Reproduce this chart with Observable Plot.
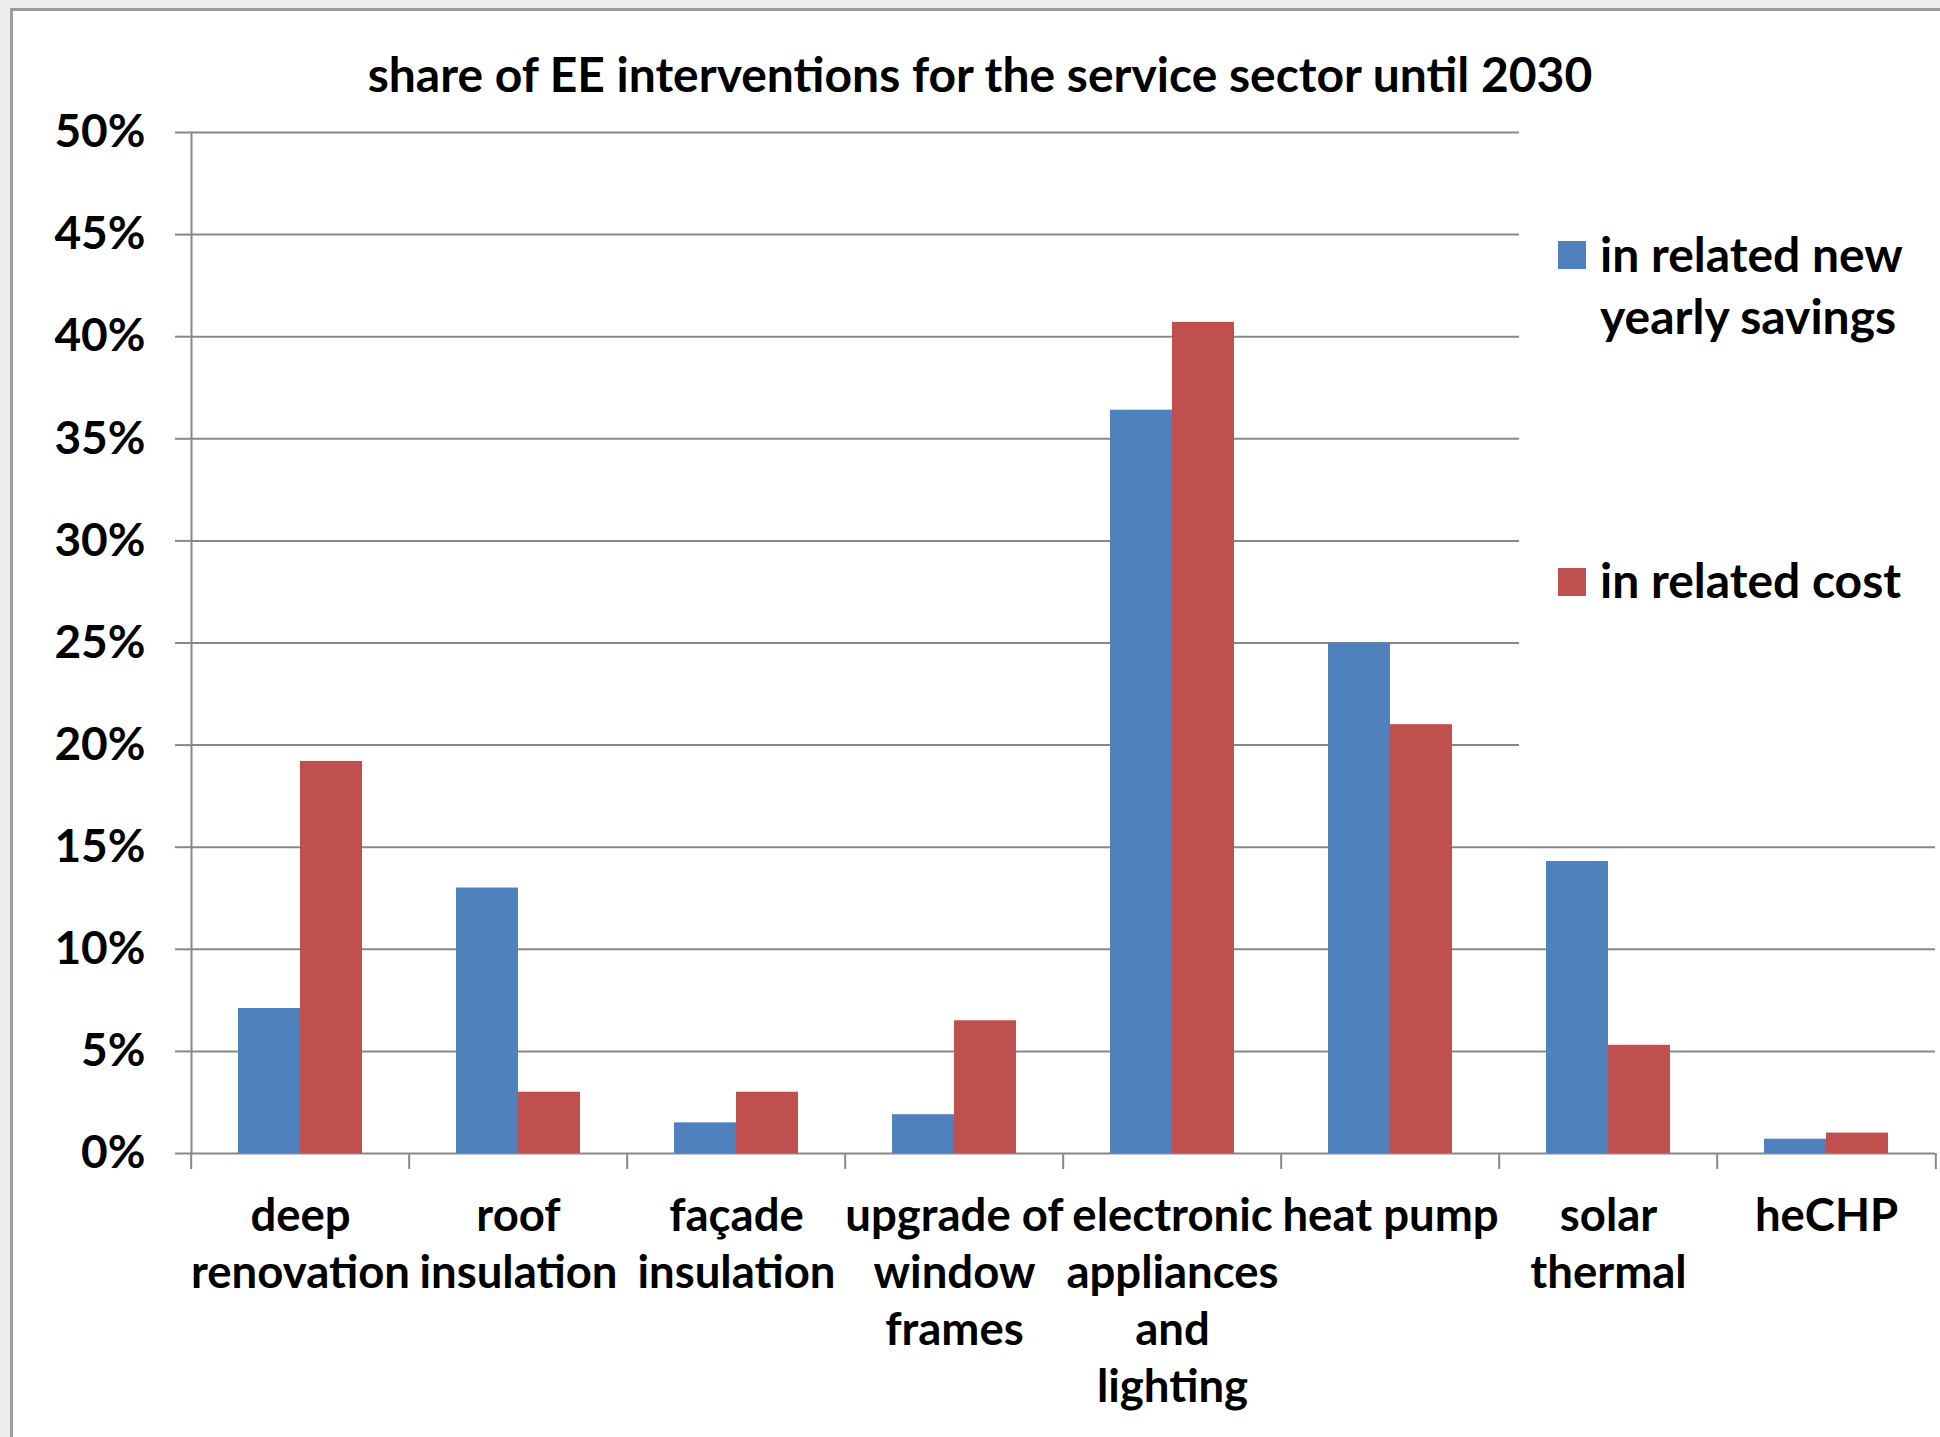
<!DOCTYPE html>
<html>
<head>
<meta charset="utf-8">
<script src="https://cdn.jsdelivr.net/npm/d3@7"></script>
<script src="https://cdn.jsdelivr.net/npm/@observablehq/plot@0.6"></script>
<style>
  html, body { margin: 0; padding: 0; width: 1940px; height: 1437px; overflow: hidden; background: #efeeec; }
  #panel { position: absolute; left: 10px; top: 8px; width: 1960px; height: 1460px; background: #fff; border: 3px solid #9d9d9d; box-sizing: border-box; }
  #title { position: absolute; left: 0; width: 1960px; top: 45px; text-align: center; font-family: Lato, sans-serif; font-weight: 700; font-size: 48px; line-height: 58px; color: #000; white-space: nowrap; }
  #chart { position: absolute; left: 0; top: 100px; }
  #legend { position: absolute; left: 1519px; top: 112px; width: 421px; height: 690px; background: #fff; font-family: Lato, sans-serif; font-weight: 700; font-size: 48px; color: #000; }
  .item { position: absolute; left: 39px; display: flex; align-items: flex-start; }
  .sw { width: 28px; height: 28px; margin-right: 14px; flex: none; }
  .lab { line-height: 62px; white-space: nowrap; }
</style>
</head>
<body>
<div id="panel"></div>
<div id="title"></div>
<div id="chart"></div>
<div id="legend"></div>
<script>
const titleText = "share of EE interventions for the service sector until 2030";
const categories = ["deep renovation", "roof insulation", "façade insulation", "upgrade of window frames", "electronic appliances and lighting", "heat pump", "solar thermal", "heCHP"];
const categoryLabels = ["deep\nrenovation", "roof\ninsulation", "façade\ninsulation", "upgrade of\nwindow\nframes", "electronic\nappliances\nand\nlighting", "heat pump", "solar\nthermal", "heCHP"];
const series = ["in related new yearly savings", "in related cost"];
const seriesLabels = ["in related new<br>yearly savings", "in related cost"];
const savings = [7.1, 13.0, 1.5, 1.9, 36.4, 25.0, 14.3, 0.7];
const cost = [19.2, 3.0, 3.0, 6.5, 40.7, 21.0, 5.3, 1.0];
const colors = ["#4f81bd", "#c0504d"];
const yTicks = [0, 5, 10, 15, 20, 25, 30, 35, 40, 45, 50];

const data = [];
categories.forEach((c, i) => {
  data.push({category: c, series: series[0], value: savings[i]});
  data.push({category: c, series: series[1], value: cost[i]});
});
const labelOf = new Map(categories.map((c, i) => [c, categoryLabels[i]]));

const W = 1940, H = 1337, mL = 188, mR = 3, mT = 32, mB = 284;
const step = (W - mL - mR) / categories.length;
const gridColor = "#888888";

document.getElementById("title").textContent = titleText;

const chart = Plot.plot({
  width: W, height: H,
  marginLeft: mL, marginRight: mR, marginTop: mT, marginBottom: mB,
  style: {fontFamily: "Lato, sans-serif", fontSize: "48px", fontWeight: 700, color: "#000", background: "transparent", overflow: "visible"},
  fx: {domain: categories, padding: 0, label: null},
  x: {domain: series, paddingInner: 0, paddingOuter: 0.75, axis: null},
  y: {domain: [0, 50], label: null},
  color: {domain: series, range: colors},
  marks: [
    Plot.gridY(yTicks, {stroke: gridColor, strokeOpacity: 1, strokeWidth: 2}),
    Plot.barY(data, {fx: "category", x: "series", y: "value", fill: "series"}),
    Plot.frame({anchor: "left", facetAnchor: "left", stroke: gridColor, strokeWidth: 2}),
    Plot.axisY({ticks: yTicks, tickSize: 16, tickPadding: 30, fontSize: 46, tickFormat: d => d + "%", stroke: gridColor, strokeWidth: 2, label: null}),
    Plot.axisFx({anchor: "bottom", tickSize: 16, tickFormat: () => "", dx: -step / 2, stroke: gridColor, strokeWidth: 2, label: null}),
    Plot.axisFx({anchor: "bottom", ticks: [categories[categories.length - 1]], tickSize: 16, tickFormat: () => "", dx: step / 2, stroke: gridColor, strokeWidth: 2, label: null}),
    Plot.axisFx({anchor: "bottom", tickSize: 0, tickPadding: 37, fontSize: 45.5, lineHeight: 1.255, tickFormat: d => labelOf.get(d), label: null})
  ]
});
document.getElementById("chart").appendChild(chart);

const legend = document.getElementById("legend");
const tops = [111, 437];
const swTops = [18, 19];
series.forEach((s, i) => {
  const item = document.createElement("div");
  item.className = "item";
  item.style.top = tops[i] + "px";
  item.innerHTML = `<div class="sw" style="background:${colors[i]};margin-top:${swTops[i]}px"></div><div class="lab">${seriesLabels[i]}</div>`;
  legend.appendChild(item);
});
</script>
</body>
</html>
